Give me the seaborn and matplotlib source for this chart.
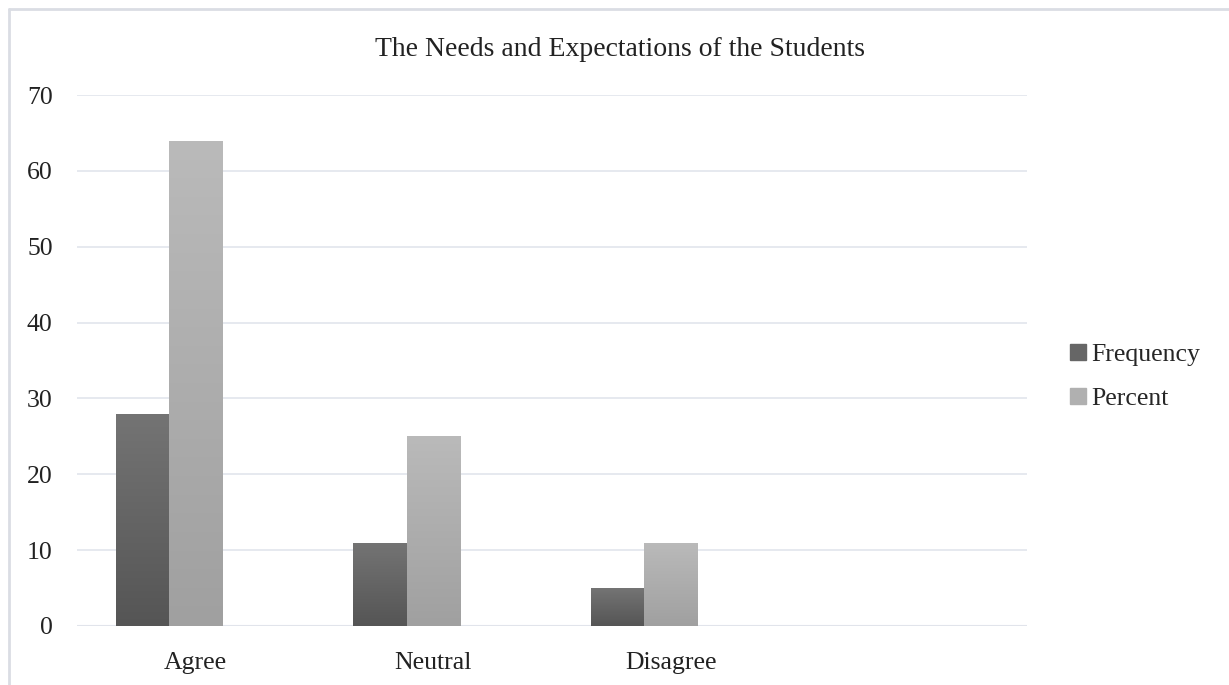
import numpy as np
import pandas as pd
import matplotlib
matplotlib.use("Agg")
import matplotlib.pyplot as plt
from matplotlib.lines import Line2D
from matplotlib.patches import Patch
import seaborn as sns

# Survey responses
categories = ["Agree", "Neutral", "Disagree"]
frequency = [28, 11, 5]
percent = [64, 25, 11]
series_names = ["Frequency", "Percent"]
y_ticks = [0, 10, 20, 30, 40, 50, 60, 70]

df = pd.DataFrame({
    "Response": categories * 2,
    "Series": [series_names[0]] * len(categories) + [series_names[1]] * len(categories),
    "Value": frequency + percent,
})

sns.set_theme(style="white")
plt.rcParams["font.family"] = ["Liberation Serif", "DejaVu Serif"]

fig = plt.figure(figsize=(12.29, 6.85), dpi=100)
ax = fig.add_axes([77 / 1229, 59 / 685, 950 / 1229, 531 / 685])

# third, blank series keeps an empty slot in each cluster
hue_levels = series_names + [" "]
sns.barplot(data=df, x="Response", y="Value", hue="Series", hue_order=hue_levels,
            order=categories, width=0.675, palette=["#666666", "#aaaaaa", "#ffffff"],
            ax=ax, legend=False, saturation=1)

# vertical gradient fills for the bars
gradients = {
    "#666666": ("#555555", "#747474"),
    "#aaaaaa": ("#a0a0a0", "#bababa"),
}
for patch in list(ax.patches):
    h = patch.get_height()
    if h <= 0 or np.isnan(h):
        continue
    fc = matplotlib.colors.to_hex(patch.get_facecolor())
    if fc not in gradients:
        continue
    lo, hi = gradients[fc]
    cmap = matplotlib.colors.LinearSegmentedColormap.from_list("g", [lo, hi])
    x0 = patch.get_x()
    w = patch.get_width()
    grad = np.linspace(0, 1, 256).reshape(-1, 1)
    im = ax.imshow(grad, extent=(x0, x0 + w, 0, h), origin="lower", aspect="auto",
                   cmap=cmap, zorder=patch.get_zorder(), interpolation="bilinear")
    im.set_clip_path(patch)
    patch.set_facecolor("none")
    patch.set_edgecolor("#c8c8c8")
    patch.set_linewidth(0.6)

ax.set_xlim(-0.5, 3.5)
ax.set_ylim(0, 70)
ax.set_yticks(y_ticks)
ax.set_yticklabels([str(t) for t in y_ticks])
ax.set_xticks(range(len(categories)))
ax.set_xticklabels(categories)
ax.set_xlabel("")
ax.set_ylabel("")
ax.tick_params(axis="y", length=0, pad=17.5, labelsize=18.5, colors="#222222")
ax.tick_params(axis="x", length=0, pad=19, labelsize=18.5, colors="#222222")
ax.yaxis.grid(True, color="#e2e5ec", linewidth=1.2)
ax.set_axisbelow(True)
for s in ax.spines.values():
    s.set_visible(False)
ax.axhline(0, color="#dfe2e9", linewidth=1.5, zorder=0.5)

fig.text(620 / 1229, 1 - 50 / 685,
         "The Needs and Expectations of the Students",
         ha="center", va="center", fontsize=20, color="#222222")

handles = [
    Patch(facecolor="#666666", edgecolor="#666666"),
    Patch(facecolor="#b0b0b0", edgecolor="#b0b0b0"),
]
fig.legend(handles, series_names, loc="center left", bbox_to_anchor=(1060 / 1229, 1 - 377 / 685),
           frameon=False, fontsize=18.5, handlelength=0.6, handleheight=0.6,
           handletextpad=0.2, labelspacing=0.86, borderaxespad=0)

# chart area border
fig.add_artist(Line2D([9 / 1229, 9 / 1229], [0, 1 - 9 / 685], transform=fig.transFigure,
                      color="#dadde4", linewidth=2))
fig.add_artist(Line2D([9 / 1229, 1], [1 - 9 / 685, 1 - 9 / 685], transform=fig.transFigure,
                      color="#dadde4", linewidth=2))

fig.savefig("out.png", dpi=100, facecolor="white")
